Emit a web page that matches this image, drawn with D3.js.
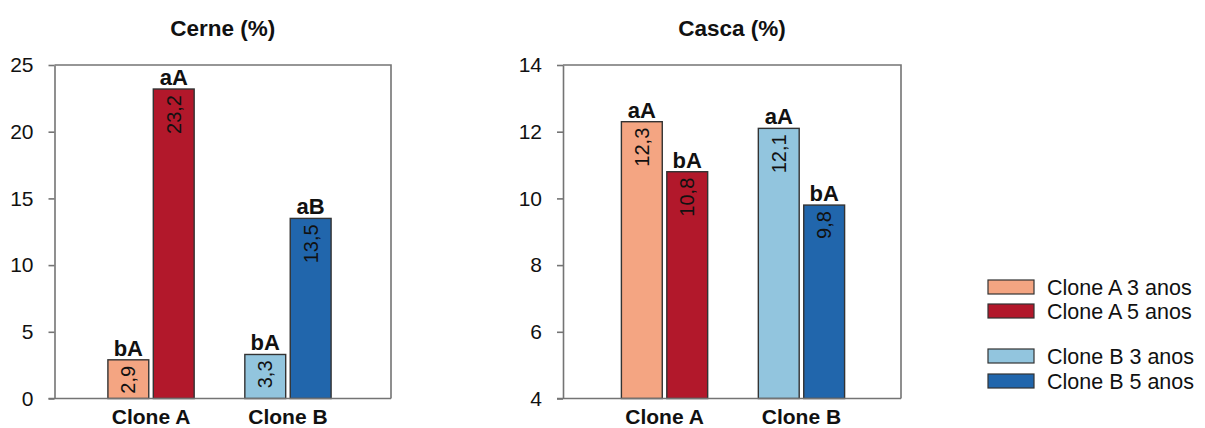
<!DOCTYPE html>
<html>
<head>
<meta charset="utf-8">
<script src="https://cdn.jsdelivr.net/npm/d3@7/dist/d3.min.js"></script>
<style>
  html, body { margin: 0; padding: 0; background: #fff; }
  svg { display: block; font-family: "Liberation Sans", Arial, sans-serif; }
</style>
</head>
<body>
<svg id="chart" width="1205" height="428"></svg>
<script>
// Categories and series
const categories = ["Clone A", "Clone B"];
const ages = ["3 anos", "5 anos"];
const seriesNames = ["Clone A 3 anos", "Clone A 5 anos", "Clone B 3 anos", "Clone B 5 anos"];

// Cerne (%) values per clone: [3 anos, 5 anos]
const cerneValues = [[2.9, 23.2], [3.3, 13.5]];
const cerneLetters = [["bA", "aA"], ["bA", "aB"]];
const cerneTicks = [0, 5, 10, 15, 20, 25];

// Casca (%) values per clone: [3 anos, 5 anos]
const cascaValues = [[12.3, 10.8], [12.1, 9.8]];
const cascaLetters = [["aA", "bA"], ["aA", "bA"]];
const cascaTicks = [4, 6, 8, 10, 12, 14];

const colors = {
  "Clone A": ["#f4a582", "#b2182b"],
  "Clone B": ["#92c5de", "#2166ac"]
};
const legendColors = ["#f4a582", "#b2182b", "#92c5de", "#2166ac"];

const svg = d3.select("#chart");
const frameColor = "#747474";
const fmt = v => String(v).replace(".", ",");

function panel(cfg) {
  const g = svg.append("g");
  const y = d3.scaleLinear().domain(cfg.domain).range([cfg.bottom, cfg.top]);
  const x = d3.scaleBand().domain(categories)
    .range([cfg.bandStart, cfg.bandEnd]).paddingInner(0.37).paddingOuter(0.39);
  const xs = d3.scaleBand().domain(ages).range([0, x.bandwidth()]).paddingInner(0.1);

  // title
  g.append("text").attr("x", (cfg.left + cfg.right) / 2).attr("y", 36)
    .attr("text-anchor", "middle").attr("font-weight", "bold").attr("font-size", 22.5)
    .attr("fill", "#111").text(cfg.title);

  // frame top & right
  g.append("path")
    .attr("d", `M${cfg.left},${cfg.top}H${cfg.right}V${cfg.bottom}`)
    .attr("fill", "none").attr("stroke", frameColor).attr("stroke-width", 1.6);

  // y axis
  const yAxis = d3.axisLeft(y).tickValues(cfg.ticks).tickSize(6).tickSizeOuter(0).tickPadding(15);
  const ya = g.append("g").attr("transform", `translate(${cfg.left},0)`).call(yAxis);
  ya.select(".domain").attr("stroke", frameColor).attr("stroke-width", 1.6);
  ya.selectAll(".tick line").attr("stroke", frameColor).attr("stroke-width", 1.6);
  ya.selectAll(".tick text").attr("font-size", 21).attr("fill", "#111")
    .attr("font-family", "Liberation Sans, Arial, sans-serif");

  // bars
  categories.forEach((cat, ci) => {
    ages.forEach((age, ai) => {
      const v = cfg.values[ci][ai];
      const bx = x(cat) + xs(age);
      const bw = xs.bandwidth();
      g.append("rect")
        .attr("x", bx).attr("y", y(v))
        .attr("width", bw).attr("height", y(cfg.domain[0]) - y(v))
        .attr("fill", colors[cat][ai]).attr("stroke", "#333").attr("stroke-width", 1.4);
      // significance letters
      g.append("text").attr("x", bx + bw / 2).attr("y", y(v) - 4)
        .attr("text-anchor", "middle").attr("font-weight", "bold").attr("font-size", 22)
        .attr("fill", "#111").text(cfg.letters[ci][ai]);
      // rotated value label
      g.append("text")
        .attr("transform", `translate(${bx + bw / 2 + 7},${y(v) + 6}) rotate(-90)`)
        .attr("text-anchor", "end").attr("font-size", 20).attr("fill", "#111")
        .text(fmt(v));
    });
  });

  // bottom axis line
  g.append("line")
    .attr("x1", cfg.left - 6).attr("x2", cfg.right)
    .attr("y1", cfg.bottom).attr("y2", cfg.bottom)
    .attr("stroke", frameColor).attr("stroke-width", 1.6);

  // category labels
  categories.forEach(cat => {
    g.append("text").attr("x", x(cat) + x.bandwidth() / 2).attr("y", 424)
      .attr("text-anchor", "middle").attr("font-weight", "bold").attr("font-size", 21)
      .attr("fill", "#111").text(cat);
  });
}

panel({
  title: "Cerne (%)", domain: [0, 25], ticks: cerneTicks,
  values: cerneValues, letters: cerneLetters,
  left: 54.5, right: 391, top: 65, bottom: 398.5,
  bandStart: 54.5, bandEnd: 384.5
});

panel({
  title: "Casca (%)", domain: [4, 14], ticks: cascaTicks,
  values: cascaValues, letters: cascaLetters,
  left: 563, right: 901, top: 65, bottom: 398.5,
  bandStart: 568, bandEnd: 898
});

// legend
const legendRows = [287, 311, 356, 381];
const lg = svg.append("g");
seriesNames.forEach((name, i) => {
  lg.append("rect").attr("x", 988).attr("y", legendRows[i] - 7)
    .attr("width", 46).attr("height", 14)
    .attr("fill", legendColors[i]).attr("stroke", "#333").attr("stroke-width", 1.2);
  lg.append("text").attr("x", 1047).attr("y", legendRows[i] + 7.5)
    .attr("font-size", 21.5).attr("fill", "#111").text(name);
});
</script>
</body>
</html>
